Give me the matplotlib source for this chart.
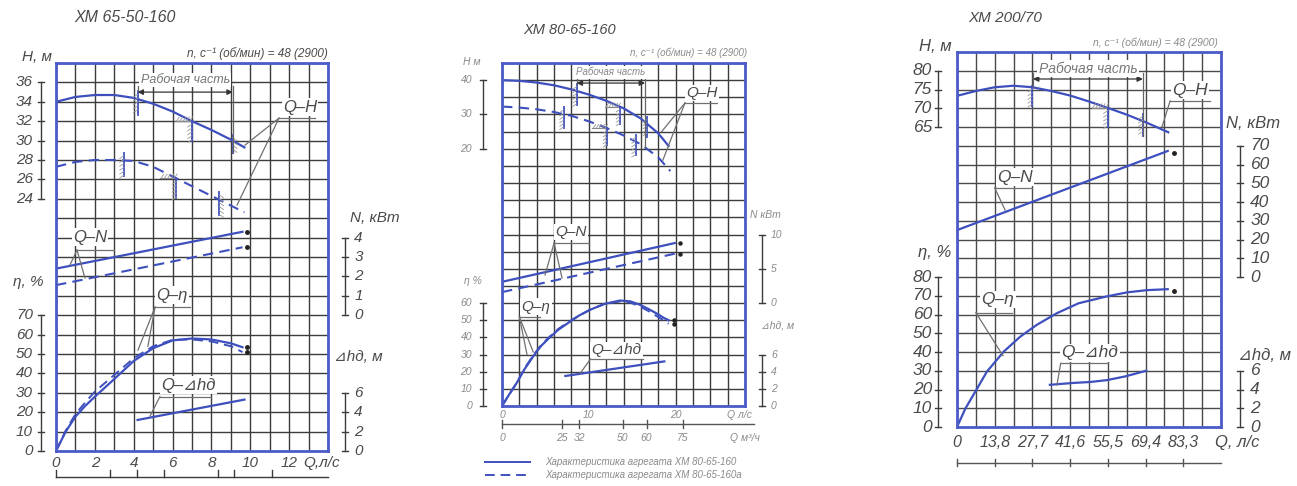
import numpy as np
import matplotlib
matplotlib.use("Agg")
import matplotlib.pyplot as plt

plt.rcParams['font.family'] = ['Liberation Sans', 'DejaVu Sans']
plt.rcParams['font.style'] = 'italic'

W, H = 1297, 486
BLUE = '#3e4fbe'
FRAME = '#4b5cc8'
GRID = '#3c3c3c'
TXT = '#4a4a4a'
LEAD = '#707070'
T2 = '#8a8a8a'

# ---- ХМ 65-50-160 (Q, л/с) ----
q1 = [0, 1, 2, 3, 4, 5, 6, 7, 8, 9, 9.7]
h1_a = [34.0, 34.5, 34.7, 34.7, 34.4, 33.8, 33.0, 32.0, 31.1, 30.1, 29.3]
h1_b = [27.3, 27.8, 28.0, 28.0, 27.9, 27.3, 26.3, 25.3, 24.3, 23.3, 22.6]
qn1 = [0, 9.6]
n1_a = [2.4, 4.3]
n1_b = [1.55, 3.5]
qe1 = [0, 0.5, 1, 1.5, 2, 3, 4, 5, 6, 7, 8, 9, 9.6]
eta1_a = [0, 10, 17.7, 23.2, 28, 37.1, 46.4, 53, 57, 58, 57.5, 55.5, 53.5]
eta1_b = [0, 10.5, 19, 25, 30.6, 39.2, 47.8, 54, 57.3, 57.5, 56.5, 54, 51]
qd1 = [4.2, 9.7]
dh1 = [3.2, 5.3]
work1_a = [4.2, 7.0, 9.1]
work1_b = [3.5, 6.2, 8.4]
m3h1 = [0, 10, 15, 20, 30, 33, 40]

# ---- ХМ 80-65-160 ----
q2_a = [0, 2, 4, 6, 8, 10, 12, 14, 16, 18, 19.2]
h2_a = [40, 39.8, 39.3, 38.5, 37.3, 35.8, 34, 31.8, 28.8, 24.5, 20.8]
q2_b = [0, 2, 4, 6, 8, 10, 12, 14, 16, 18, 19.4]
h2_b = [32.3, 32, 31.5, 30.7, 29.6, 28, 26.1, 23.9, 21.3, 17.5, 13.5]
qn2 = [0, 19.9]
n2_a = [3.1, 8.75]
n2_b = [1.6, 7.2]
qe2 = [0, 0.8, 1.7, 2.6, 3.6, 4.5, 5.5, 6.5, 7.5, 8.8, 10.1, 11.8, 13.6, 14.8, 15.9, 16.9, 17.8, 18.6, 19.2]
eta2_a = [0, 6.5, 13.5, 21.5, 29, 35, 40, 44.5, 48, 52.5, 56, 59.5, 61.5, 61, 59, 56.5, 54, 51.5, 50]
eta2_b = [0, 6.5, 13.5, 22, 29.5, 35.5, 40.5, 45, 48.5, 52.5, 56, 59.5, 61, 60.3, 58, 55.3, 52.5, 50, 48]
qd2 = [7.3, 18.7]
dh2 = [3.5, 5.2]
work2_a = [8.6, 13.6, 16.7]
work2_b = [7.1, 12.1, 15.4]
m3h2 = [0, 25, 32, 50, 60, 75]

# ---- ХМ 200/70 ----
q3 = [0, 6.94, 13.9, 20.8, 27.8, 34.7, 41.6, 48.6, 55.5, 62.5, 69.4, 77.8]
h3 = [73.3, 74.6, 75.6, 76.0, 75.6, 74.6, 73.4, 71.8, 70.1, 68.3, 66.3, 63.6]
qn3 = [0, 77.6]
n3 = [25, 67.2]
qe3 = [0, 3.07, 7.4, 11, 17.2, 23.3, 29.4, 36.8, 44.8, 55, 62.6, 70, 77.6]
eta3 = [0, 9.8, 20.5, 29.5, 40.2, 48.2, 54.5, 60.7, 66, 69.6, 71.8, 73, 73.5]
qd3 = [34.2, 42.8, 49, 55.2, 62, 69.7]
dh3 = [4.5, 4.7, 4.8, 5.0, 5.4, 6.0]
work3 = [27.7, 55.5, 68.4]
qlab3 = ['0', '13,8', '27,7', '41,6', '55,5', '69,4', '83,3']

fig = plt.figure(figsize=(W / 100, H / 100), dpi=100)


def panel(l, t, r, b, gcol=GRID):
    ax = fig.add_axes([l / W, 1 - b / H, (r - l) / W, (b - t) / H])
    ax.set_xlim(0, 14)
    ax.set_ylim(20, 0)
    ax.set_xticks(range(15))
    ax.set_yticks(range(21))
    ax.tick_params(length=0, labelbottom=False, labelleft=False)
    ax.grid(True, color=gcol, lw=1.0, zorder=0)
    ax.set_axisbelow(True)
    for s in ax.spines.values():
        s.set_color(FRAME)
        s.set_linewidth(2)
        s.set_zorder(5)
    return ax


def scale(ax, x, vals, to_row, lx, side, fs, col=TXT, tl=0.15):
    rows = [to_row(v) for v in vals]
    ax.plot([x, x], [min(rows), max(rows)], color=GRID, lw=1, clip_on=False)
    for v, r in zip(vals, rows):
        ax.plot([x - tl, x + tl], [r, r], color=GRID, lw=1, clip_on=False)
        ax.text(lx, r, f"{v:g}", ha='right' if side == 'l' else 'left', va='center',
                fontsize=fs, color=col, clip_on=False)


def mark(ax, c, rc, side=-1, shelf=False, up=0.4, down=0.8):
    if shelf:
        r0, r1 = rc, rc + 1.0
        ax.plot([c - 0.85, c], [rc, rc], color='#888', lw=0.8, zorder=3)
        for k in range(5):
            x = c - 0.8 + k * 0.17
            ax.plot([x, x + 0.15], [rc, rc - 0.22], color='#999', lw=0.6, zorder=3)
    else:
        r0, r1 = rc - up, rc + down
    ax.plot([c, c], [r0, r1], color=BLUE, lw=1.3, zorder=3)
    n = int((r1 - r0) / 0.2)
    for k in range(n):
        y = r0 + 0.15 + k * 0.2
        ax.plot([c, c + side * 0.22], [y, y + 0.15], color='#999', lw=0.6, zorder=3)


def callout(ax, txt, tx, ty, ux0, ux1, uy, targets, fs):
    ax.text(tx, ty, txt, ha='center', va='center', fontsize=fs, color=TXT,
            bbox=dict(fc='white', ec='none', pad=1.0), zorder=4, clip_on=False)
    ax.plot([ux0, ux1], [uy, uy], color=LEAD, lw=0.9, zorder=4, clip_on=False)
    for x, y in targets:
        ax.plot([ux0, x], [uy, y], color=LEAD, lw=0.9, zorder=4)


def dimension(ax, c0, c1, r, rc0, rc1, txt, tr, fs, col='#777'):
    ax.annotate('', xy=(c1, r), xytext=(c0, r),
                arrowprops=dict(arrowstyle='<|-|>', color='#333', lw=0.9,
                                mutation_scale=8, shrinkA=0, shrinkB=0), zorder=4)
    ax.plot([c0, c0], [r - 0.3, rc0], color='#666', lw=0.9, zorder=3)
    ax.plot([c1, c1], [r - 0.3, rc1], color='#666', lw=0.9, zorder=3)
    ax.text((c0 + c1) / 2, tr, txt, ha='center', va='center', fontsize=fs, color=col,
            bbox=dict(fc='white', ec='none', pad=1.0), zorder=4)


def rows(f, vals):
    return [f(v) for v in vals]


def txt(ax, x, y, s, fs, col=TXT, ha='center'):
    ax.text(x, y, s, ha=ha, va='center', fontsize=fs, color=col, clip_on=False)


# =============== panel 1 ===============
ax = panel(56, 63, 328, 451)
rH = lambda v: (38 - v) / 2
rN = lambda v: 13 - v
rE = lambda v: 20 - v / 10
rD = lambda v: 20 - v / 2
c = lambda q: np.array(q) / 1.0

ax.plot(c(q1), rows(rH, h1_a), color=BLUE, lw=1.6, zorder=3)
ax.plot(c(q1), rows(rH, h1_b), color=BLUE, lw=1.5, ls=(0, (5, 3)), zorder=3)
ax.plot(c(qn1), rows(rN, n1_a), color=BLUE, lw=1.6, zorder=3)
ax.plot(c(qn1), rows(rN, n1_b), color=BLUE, lw=1.5, ls=(0, (5, 3)), zorder=3)
ax.plot(c(qe1), rows(rE, eta1_a), color=BLUE, lw=1.6, zorder=3)
ax.plot(c(qe1), rows(rE, eta1_b), color=BLUE, lw=1.4, ls=(0, (5, 3)), zorder=3)
ax.plot(c(qd1), rows(rD, dh1), color=BLUE, lw=1.6, zorder=3)
for qq, vv, f in [(qn1, n1_a, rN), (qn1, n1_b, rN), (qe1, eta1_a, rE), (qe1, eta1_b, rE)]:
    ax.plot(qq[-1] + 0.25, f(vv[-1]), 'o', ms=2.5, color='#222', clip_on=False, zorder=4)

ra = [rH(np.interp(q, q1, h1_a)) for q in work1_a]
rb = [rH(np.interp(q, q1, h1_b)) for q in work1_b]
mark(ax, work1_a[0], ra[0], -1)
mark(ax, work1_a[1], ra[1], -1, shelf=True)
mark(ax, work1_a[2], ra[2], 1, up=0.3, down=0.65)
mark(ax, work1_b[0], rb[0], -1)
mark(ax, work1_b[1], rb[1], -1, shelf=True)
mark(ax, work1_b[2], rb[2], 1)
dimension(ax, work1_a[0], work1_a[2], 1.5, ra[0] - 0.4, ra[2] + 0.65, 'Рабочая часть', 0.88, 9)

scale(ax, -0.77, [24, 26, 28, 30, 32, 34, 36], rH, -1.18, 'l', 11)
scale(ax, -0.77, [0, 10, 20, 30, 40, 50, 60, 70], rE, -1.18, 'l', 11)
scale(ax, 14.87, [0, 1, 2, 3, 4], rN, 15.35, 'r', 11)
scale(ax, 14.87, [0, 2, 4, 6], rD, 15.35, 'r', 11)
for q in [0, 2, 4, 6, 8, 10, 12]:
    txt(ax, c(q), 20.6, f"{q}", 11)
txt(ax, 13.65, 20.6, 'Q,л/с', 11)
ax.plot([0, 14], [21.34, 21.34], color=GRID, lw=1, clip_on=False)
for m in m3h1:
    ax.plot([c(m / 3.6)] * 2, [21.34, 21.0], color=GRID, lw=1, clip_on=False)

txt(ax, 3.55, -2.32, 'ХМ 65-50-160', 11.5)
txt(ax, -0.98, -0.31, 'H, м', 11)
txt(ax, 14, -0.5, 'n, c⁻¹ (об/мин) = 48 (2900)', 8.5, ha='right')
txt(ax, 16.4, 8.0, 'N, кВт', 11)
txt(ax, -1.44, 11.3, 'η, %', 11)
txt(ax, 15.55, 15.15, '⊿hд, м', 11)
callout(ax, 'Q–H', 12.56, 2.27, 11.48, 13.33, 2.84, [(9.73, 4.23), (9.32, 7.32)], 12)
callout(ax, 'Q–N', 1.75, 8.97, 1.08, 3.0, 9.64, [(0.72, 10.41), (1.49, 11.08)], 12)
callout(ax, 'Q–η', 5.97, 11.96, 5.1, 6.9, 12.58, [(4.22, 14.8), (4.73, 14.6)], 12)
callout(ax, 'Q–⊿hд', 6.8, 16.6, 5.35, 7.96, 17.2, [(4.84, 18.2)], 12)

# =============== panel 2 ===============
ax = panel(502, 63, 745, 406)
rH = lambda v: (45 - v) / 5
rN = lambda v: 14 - v / 2.5
c = lambda q: np.array(q) / 2.0

ax.plot(c(q2_a), rows(rH, h2_a), color=BLUE, lw=1.6, zorder=3)
ax.plot(c(q2_b), rows(rH, h2_b), color=BLUE, lw=1.5, ls=(0, (5, 3)), zorder=3)
ax.plot(c(qn2), rows(rN, n2_a), color=BLUE, lw=1.6, zorder=3)
ax.plot(c(qn2), rows(rN, n2_b), color=BLUE, lw=1.5, ls=(0, (5, 3)), zorder=3)
ax.plot(c(qe2), rows(rE, eta2_a), color=BLUE, lw=1.6, zorder=3)
ax.plot(c(qe2), rows(rE, eta2_b), color=BLUE, lw=1.4, ls=(0, (5, 3)), zorder=3)
ax.plot(c(qd2), rows(rD, dh2), color=BLUE, lw=1.6, zorder=3)
for qq, vv, f in [(qn2, n2_a, rN), (qn2, n2_b, rN), (qe2, eta2_a, rE), (qe2, eta2_b, rE)]:
    ax.plot(c(qq[-1]) + 0.3, f(vv[-1]), 'o', ms=2.2, color='#222', clip_on=False, zorder=4)

ra = [rH(np.interp(q, q2_a, h2_a)) for q in work2_a]
rb = [rH(np.interp(q, q2_b, h2_b)) for q in work2_b]
mark(ax, c(work2_a[0]), ra[0], -1)
mark(ax, c(work2_a[1]), ra[1], -1, shelf=True)
mark(ax, c(work2_a[2]), ra[2], -1)
mark(ax, c(work2_b[0]), rb[0], -1)
mark(ax, c(work2_b[1]), rb[1], -1, shelf=True)
mark(ax, c(work2_b[2]), rb[2], -1)
dimension(ax, c(work2_a[0]), 8.24, 1.17, ra[0] - 0.4, 4.9, 'Рабочая часть', 0.55, 7, col=T2)

scale(ax, -1.09, [20, 30, 40], rH, -1.73, 'l', 7.5, col=T2)
scale(ax, -1.09, [0, 10, 20, 30, 40, 50, 60], rE, -1.73, 'l', 7.5, col=T2)
scale(ax, 14.98, [0, 5, 10], rN, 15.5, 'r', 7.5, col=T2)
scale(ax, 14.98, [0, 2, 4, 6], rD, 15.5, 'r', 7.5, col=T2)
for q in [0, 10, 20]:
    txt(ax, c(q), 20.55, f"{q}", 7.5, col=T2)
txt(ax, 13.7, 20.55, 'Q л/с', 7.5, col=T2)
ax.plot([0, 14.5], [21.05, 21.05], color='#555', lw=1, clip_on=False)
for m in m3h2:
    ax.plot([c(m / 3.6)] * 2, [20.8, 21.3], color='#555', lw=1, clip_on=False)
    txt(ax, c(m / 3.6), 21.85, f"{m}", 7.5, col=T2)
txt(ax, 14.0, 21.85, 'Q м³/ч', 7.5, col=T2)

txt(ax, 3.92, -1.92, 'ХМ 80-65-160', 10.5)
txt(ax, -1.73, -0.06, 'Н м', 7.5, col=T2)
txt(ax, 14.1, -0.58, 'n, c⁻¹ (об/мин) = 48 (2900)', 7, col=T2, ha='right')
txt(ax, 15.15, 8.86, 'N кВт', 7.5, col=T2)
txt(ax, -1.67, 12.7, 'η %', 7.5, col=T2)
txt(ax, 15.9, 15.3, '⊿hд, м', 7.5, col=T2)
callout(ax, 'Q–H', 11.5, 1.75, 10.54, 12.4, 2.33, [(9.2, 4.0), (9.27, 5.66)], 11)
callout(ax, 'Q–N', 3.97, 9.85, 3.0, 5.0, 10.5, [(2.48, 12.36), (3.46, 12.54)], 11)
callout(ax, 'Q–η', 1.96, 14.2, 1.0, 2.2, 14.8, [(1.8, 16.85), (1.44, 17.0)], 11)
callout(ax, 'Q–⊿hд', 6.6, 16.75, 5.1, 8.1, 17.26, [(4.5, 18.1)], 11)
ax.plot([-0.98, 1.61], [23.27, 23.27], color=BLUE, lw=1.4, clip_on=False)
ax.plot([-0.98, 1.61], [24.0, 24.0], color=BLUE, lw=1.4, ls=(0, (5, 3)), clip_on=False)
txt(ax, 2.48, 23.27, 'Характеристика агрегата ХМ 80-65-160', 7, col=T2, ha='left')
txt(ax, 2.48, 24.0, 'Характеристика агрегата ХМ 80-65-160а', 7, col=T2, ha='left')

# =============== panel 3 ===============
ax = panel(957, 52, 1221, 427, gcol='#4a4a4a')
rH = lambda v: (85 - v) / 5
rN = lambda v: 12 - v / 10
c = lambda q: np.array(q) / (25 / 3.6)

ax.plot(c(q3), rows(rH, h3), color=BLUE, lw=1.6, zorder=3)
ax.plot(c(qn3), rows(rN, n3), color=BLUE, lw=1.6, zorder=3)
ax.plot(c(qe3), rows(rE, eta3), color=BLUE, lw=1.6, zorder=3)
ax.plot(c(qd3), rows(rD, dh3), color=BLUE, lw=1.6, zorder=3)
for qq, vv, f in [(qn3, n3, rN), (qe3, eta3, rE)]:
    ax.plot(c(qq[-1]) + 0.35, f(vv[-1]) + 0.1, 'o', ms=2.5, color='#222', clip_on=False, zorder=4)

r3 = [rH(np.interp(q, q3, h3)) for q in work3]
mark(ax, c(work3[0]), r3[0], -1, up=0.05, down=1.0)
mark(ax, c(work3[1]), r3[1], -1, shelf=True)
mark(ax, c(work3[2]), r3[2], -1)
dimension(ax, 4.03, 9.86, 1.44, r3[0], r3[2] + 0.8, 'Рабочая часть', 0.9, 10)

scale(ax, -1.0, [65, 70, 75, 80], rH, -1.33, 'l', 12.5)
scale(ax, -1.0, [0, 10, 20, 30, 40, 50, 60, 70, 80], rE, -1.33, 'l', 12.5)
scale(ax, 15.0, [0, 10, 20, 30, 40, 50, 60, 70], rN, 15.55, 'r', 12.5)
scale(ax, 15.0, [0, 2, 4, 6], rD, 15.55, 'r', 12.5)
for k, lab in enumerate(qlab3):
    txt(ax, 2 * k, 20.8, lab, 11.5)
txt(ax, 14.85, 20.8, 'Q, л/с', 12)
ax.plot([0, 14], [21.9, 21.9], color='#555', lw=1, clip_on=False)
for k in range(7):
    ax.plot([2 * k, 2 * k], [21.72, 22.08], color='#555', lw=1, clip_on=False)

txt(ax, 2.55, -1.81, 'ХМ 200/70', 11)
txt(ax, -1.17, -0.32, 'H, м', 12)
txt(ax, 13.85, -0.5, 'n, c⁻¹ (об/мин) = 48 (2900)', 7.5, col=T2, ha='right')
txt(ax, 15.7, 3.8, 'N, кВт', 12)
txt(ax, -1.17, 10.67, 'η, %', 12)
txt(ax, 16.3, 16.2, '⊿hд, м', 12)
callout(ax, 'Q–H', 12.35, 2.03, 11.3, 13.4, 2.61, [(10.87, 4.0)], 12.5)
callout(ax, 'Q–N', 3.08, 6.67, 2.0, 4.0, 7.25, [(2.55, 8.43)], 12.5)
callout(ax, 'Q–η', 2.17, 13.2, 1.0, 2.9, 13.9, [(2.44, 16.2)], 12.5)
callout(ax, 'Q–⊿hд', 7.05, 16.05, 5.5, 8.0, 16.6, [(5.3, 17.76)], 12.5)

fig.savefig('out.png', dpi=100)
